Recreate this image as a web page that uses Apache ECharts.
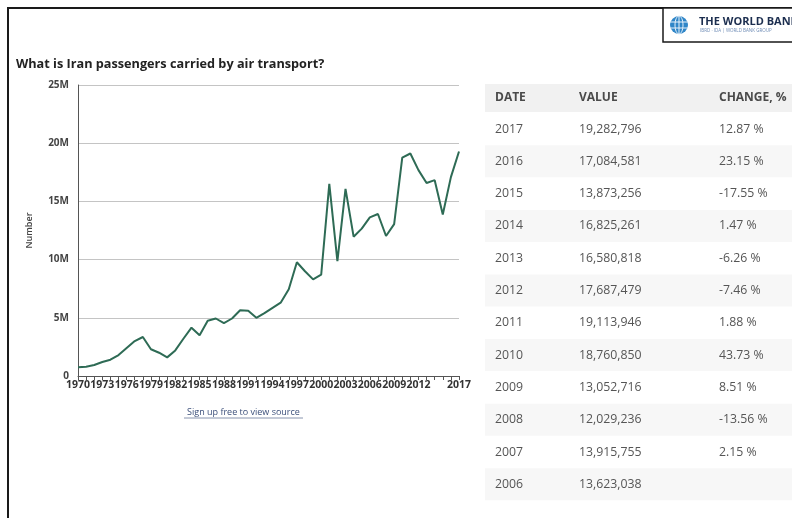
<!DOCTYPE html>
<html>
<head>
<meta charset="utf-8">
<script src="https://cdn.jsdelivr.net/npm/echarts@6/dist/echarts.min.js"></script>
<style>
html,body{margin:0;padding:0;background:#fff;}
#c{width:792px;height:518px;}
</style>
</head>
<body>
<div id="c"></div>
<script>
// ---- data ----
const years = [];
for (let y = 1970; y <= 2017; y++) years.push(String(y));
// passengers carried (millions); 2006-2017 from the table
const passengersM = [
  0.76, 0.80, 0.94, 1.20, 1.40, 1.80, 2.40, 3.00, 3.35, 2.30,
  2.00, 1.60, 2.20, 3.20, 4.15, 3.50, 4.75, 4.94, 4.55, 4.94,
  5.65, 5.60, 5.00, 5.40, 5.85, 6.30, 7.45, 9.77, 9.00, 8.30,
  8.70, 16.50, 9.86, 16.07, 11.97, 12.66, 13.623038, 13.915755, 12.029236, 13.052716,
  18.760850, 19.113946, 17.687479, 16.580818, 16.825261, 13.873256, 17.084581, 19.282796
];
const yTicks = [0, 5e6, 10e6, 15e6, 20e6, 25e6];
const tableHeader = ['DATE', 'VALUE', 'CHANGE, %'];
const tableYears = ['2017','2016','2015','2014','2013','2012','2011','2010','2009','2008','2007','2006'];
const tableValues = [19282796,17084581,13873256,16825261,16580818,17687479,19113946,18760850,13052716,12029236,13915755,13623038];
const tableChanges = [12.87, 23.15, -17.55, 1.47, -6.26, -7.46, 1.88, 43.73, 8.51, -13.56, 2.15, null];

const FF = '"Open Sans", "DejaVu Sans", sans-serif';
const chart = echarts.init(document.getElementById('c'), null, {renderer: 'canvas'});

function txt(x, y, text, size, weight, fill, align) {
  return {
    type: 'text', silent: true,
    style: {
      x: x, y: y, text: text,
      font: (weight || 'normal') + ' ' + size + 'px ' + FF,
      fill: fill, align: align || 'left', textAlign: align || 'left',
      verticalAlign: 'middle', textVerticalAlign: 'middle'
    }
  };
}

const graphics = [];
// frame
graphics.push({type:'line', silent:true, shape:{x1:7, y1:8, x2:792, y2:8}, style:{stroke:'#1a1a1a', lineWidth:2}});
graphics.push({type:'line', silent:true, shape:{x1:8, y1:7, x2:8, y2:518}, style:{stroke:'#1a1a1a', lineWidth:2}});
// logo box
graphics.push({type:'rect', silent:true, shape:{x:663, y:8, width:140, height:34}, style:{fill:'#fff', stroke:'#1a1a1a', lineWidth:1.5}});
graphics.push({type:'circle', silent:true, shape:{cx:679, cy:25, r:9}, style:{fill:'#2f86c8'}});
graphics.push({type:'ellipse', silent:true, shape:{cx:679, cy:25, rx:4, ry:9}, style:{fill:'none', stroke:'#e8f2fb', lineWidth:1}});
graphics.push({type:'line', silent:true, shape:{x1:670, y1:22, x2:688, y2:22}, style:{stroke:'#e8f2fb', lineWidth:1}});
graphics.push({type:'line', silent:true, shape:{x1:670, y1:28, x2:688, y2:28}, style:{stroke:'#e8f2fb', lineWidth:1}});
graphics.push({type:'line', silent:true, shape:{x1:679, y1:16, x2:679, y2:34}, style:{stroke:'#e8f2fb', lineWidth:1}});
graphics.push(txt(699, 22, 'THE WORLD BANK', 11, 'bold', '#1c2e4f'));
graphics.push(txt(700, 31, 'IBRD · IDA | WORLD BANK GROUP', 4.5, 'normal', '#6d8bb5'));
// title
graphics.push(txt(16, 64, 'What is Iran passengers carried by air transport?', 12.7, 'bold', '#222'));
// source link
graphics.push(txt(243.5, 412, 'Sign up free to view source', 9, 'normal', '#3b4f7a', 'center'));
graphics.push({type:'line', silent:true, shape:{x1:184, y1:418, x2:303, y2:418}, style:{stroke:'#6a7a9a', lineWidth:0.8}});
// table
graphics.push({type:'rect', silent:true, shape:{x:485, y:84, width:307, height:28}, style:{fill:'#f1f1f1'}});
const colX = [495, 579, 719];
tableHeader.forEach((h, i) => graphics.push(txt(colX[i], 98, h, 12, 'bold', '#4a4a4a')));
tableYears.forEach((yr, k) => {
  const cy = 129 + 32.3 * k;
  if (k % 2 === 1) {
    graphics.push({type:'rect', silent:true, shape:{x:485, y:cy - 16, width:307, height:32}, style:{fill:'#f7f7f7'}});
  }
  graphics.push(txt(colX[0], cy, yr, 12.3, 'normal', '#555'));
  graphics.push(txt(colX[1], cy, tableValues[k].toLocaleString('en-US'), 12.3, 'normal', '#555'));
  if (tableChanges[k] !== null) {
    graphics.push(txt(colX[2], cy, tableChanges[k].toFixed(2) + ' %', 12.3, 'normal', '#555'));
  }
});

const option = {
  backgroundColor: '#fff',
  animation: false,
  grid: {left: 78, right: 333, top: 85, bottom: 142, containLabel: false},
  xAxis: {
    type: 'category',
    data: years,
    boundaryGap: false,
    axisLine: {lineStyle: {color: '#555', width: 1}},
    axisTick: {interval: 0, length: 4, lineStyle: {color: '#555'}},
    axisLabel: {
      interval: function (idx) { return (idx % 3 === 0 && idx <= 42) || idx === 47; },
      fontFamily: FF, fontSize: 10.5, fontWeight: 'bold', color: '#333', margin: 4
    },
    splitLine: {show: false}
  },
  yAxis: {
    type: 'value',
    min: yTicks[0], max: yTicks[yTicks.length - 1], interval: yTicks[1] - yTicks[0],
    name: 'Number', nameLocation: 'middle', nameGap: 44, nameRotate: 90,
    nameTextStyle: {fontFamily: FF, fontSize: 9, fontWeight: 600, color: '#444'},
    axisLine: {show: true, lineStyle: {color: '#555'}},
    axisTick: {show: false},
    axisLabel: {
      formatter: function (v) { return v === 0 ? '0' : (v / 1e6) + 'M'; },
      fontFamily: FF, fontSize: 10, fontWeight: 'bold', color: '#444', margin: 9
    },
    splitLine: {lineStyle: {color: '#c4c4c4', width: 1}}
  },
  series: [{
    type: 'line',
    data: passengersM.map(v => v * 1e6),
    showSymbol: false,
    lineStyle: {color: '#2e6b55', width: 2},
    itemStyle: {color: '#2e6b55'}
  }],
  graphic: graphics
};
chart.setOption(option);
</script>
</body>
</html>
